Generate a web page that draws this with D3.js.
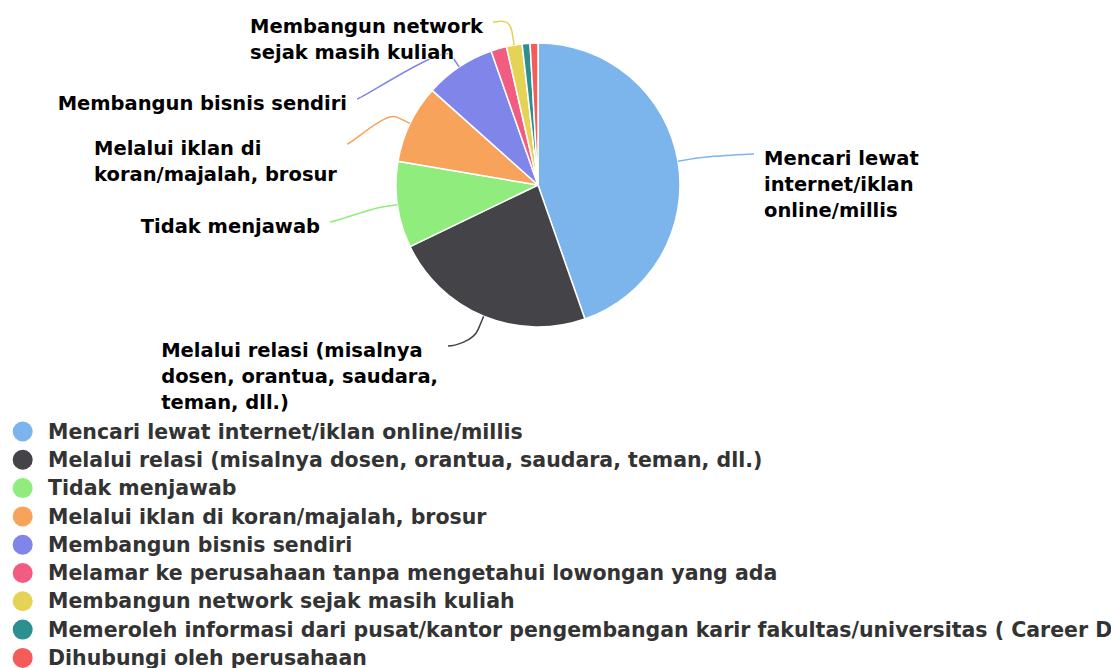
<!DOCTYPE html>
<html>
<head>
<meta charset="utf-8">
<script src="https://cdn.jsdelivr.net/npm/d3@7"></script>
<style>
  body { margin: 0; background: #fff; overflow: hidden; }
  svg { display: block; font-family: "DejaVu Sans", sans-serif; }
</style>
</head>
<body>
<div id="chart"></div>
<script>
var svgWidth = 1111;
var svgHeight = 668;

// data
var categories = [
  "Mencari lewat internet/iklan online/millis",
  "Melalui relasi (misalnya dosen, orantua, saudara, teman, dll.)",
  "Tidak menjawab",
  "Melalui iklan di koran/majalah, brosur",
  "Membangun bisnis sendiri",
  "Melamar ke perusahaan tanpa mengetahui lowongan yang ada",
  "Membangun network sejak masih kuliah",
  "Memeroleh informasi dari pusat/kantor pengembangan karir fakultas/universitas ( Career Development Center)",
  "Dihubungi oleh perusahaan"
];
var values = [50, 26, 11, 10, 9, 2, 2, 1, 1];
var colors = ["#7cb5ec", "#434348", "#90ed7d", "#f7a35c", "#8085e9",
              "#f15c80", "#e4d354", "#2b908f", "#f45b5b"];

// wrapped data label text (null = label hidden)
var labelLines = [
  ["Mencari lewat", "internet/iklan", "online/millis"],
  ["Melalui relasi (misalnya", "dosen, orantua, saudara,", "teman, dll.)"],
  ["Tidak menjawab"],
  ["Melalui iklan di", "koran/majalah, brosur"],
  ["Membangun bisnis sendiri"],
  null,
  ["Membangun network", "sejak masih kuliah"],
  null,
  null
];

// label layout: [text edge x offset, first baseline y offset] from pie centre
var labelOffsets = [
  [226, -20], [-100, 172], [-218, 48], [-201, -30], [-191, -75],
  null, [-55, -152], null, null
];

var cx = 538, cy = 185, radius = 142;

var svg = d3.select("#chart")
  .append("svg")
  .attr("width", svgWidth)
  .attr("height", svgHeight);

var pie = d3.pie().sort(null).value(d => d.value);
var arcs = pie(categories.map((c, i) => ({ name: c, value: values[i], i: i })));

var arc = d3.arc().innerRadius(0).outerRadius(radius);

var pieGroup = svg.append("g")
  .attr("transform", `translate(${cx}, ${cy})`);

pieGroup.selectAll("path")
  .data(arcs)
  .enter()
  .append("path")
  .attr("d", arc)
  .attr("fill", d => colors[d.data.i])
  .attr("stroke", "#fff")
  .attr("stroke-width", 1.5)
  .attr("stroke-linejoin", "round");

function polar(a, r) {
  return [r * Math.sin(a), -r * Math.cos(a)];
}

// data labels + connectors
var labelGroup = pieGroup.append("g");
var lineHeight = 26;

arcs.forEach(function(d) {
  var i = d.data.i;
  if (!labelLines[i]) return;
  var mid = (d.startAngle + d.endAngle) / 2;
  var right = mid < Math.PI;
  var off = labelOffsets[i];

  var text = labelGroup.append("text")
    .attr("font-size", "19.5px")
    .attr("font-weight", "bold")
    .attr("fill", "#000")
    .attr("stroke", "#fff")
    .attr("stroke-width", 2)
    .attr("paint-order", "stroke")
    .attr("stroke-linejoin", "round");

  var tspans = labelLines[i].map(function(line, k) {
    return text.append("tspan")
      .attr("y", off[1] + k * lineHeight)
      .text(line);
  });
  var maxW = d3.max(tspans, t => t.node().getComputedTextLength());
  var left = right ? off[0] : off[0] - maxW;
  tspans.forEach(t => t.attr("x", left));

  var anchor = [off[0] + (right ? -10 : 10), off[1] - 11];
  var touch = polar(mid, radius);
  var brk = polar(mid, radius + 14);
  var p = d3.path();
  p.moveTo(anchor[0], anchor[1]);
  p.bezierCurveTo(anchor[0] + (right ? -5 : 5), anchor[1],
    2 * brk[0] - touch[0], 2 * brk[1] - touch[1], brk[0], brk[1]);
  p.lineTo(touch[0], touch[1]);

  labelGroup.insert("path", "text")
    .attr("d", p.toString())
    .attr("fill", "none")
    .attr("stroke", colors[i])
    .attr("stroke-width", 1.5);
});

// legend
var legend = svg.append("g")
  .attr("transform", "translate(0, 431.5)");

var items = legend.selectAll("g")
  .data(categories)
  .enter()
  .append("g")
  .attr("transform", (d, i) => `translate(0, ${i * 28.3})`);

items.append("circle")
  .attr("cx", 22.7)
  .attr("cy", 0)
  .attr("r", 10)
  .attr("fill", (d, i) => colors[i]);

items.append("text")
  .attr("x", 48)
  .attr("dy", "0.35em")
  .attr("font-size", "20.5px")
  .attr("font-weight", "bold")
  .attr("fill", "#333")
  .text(d => d);
</script>
</body>
</html>
